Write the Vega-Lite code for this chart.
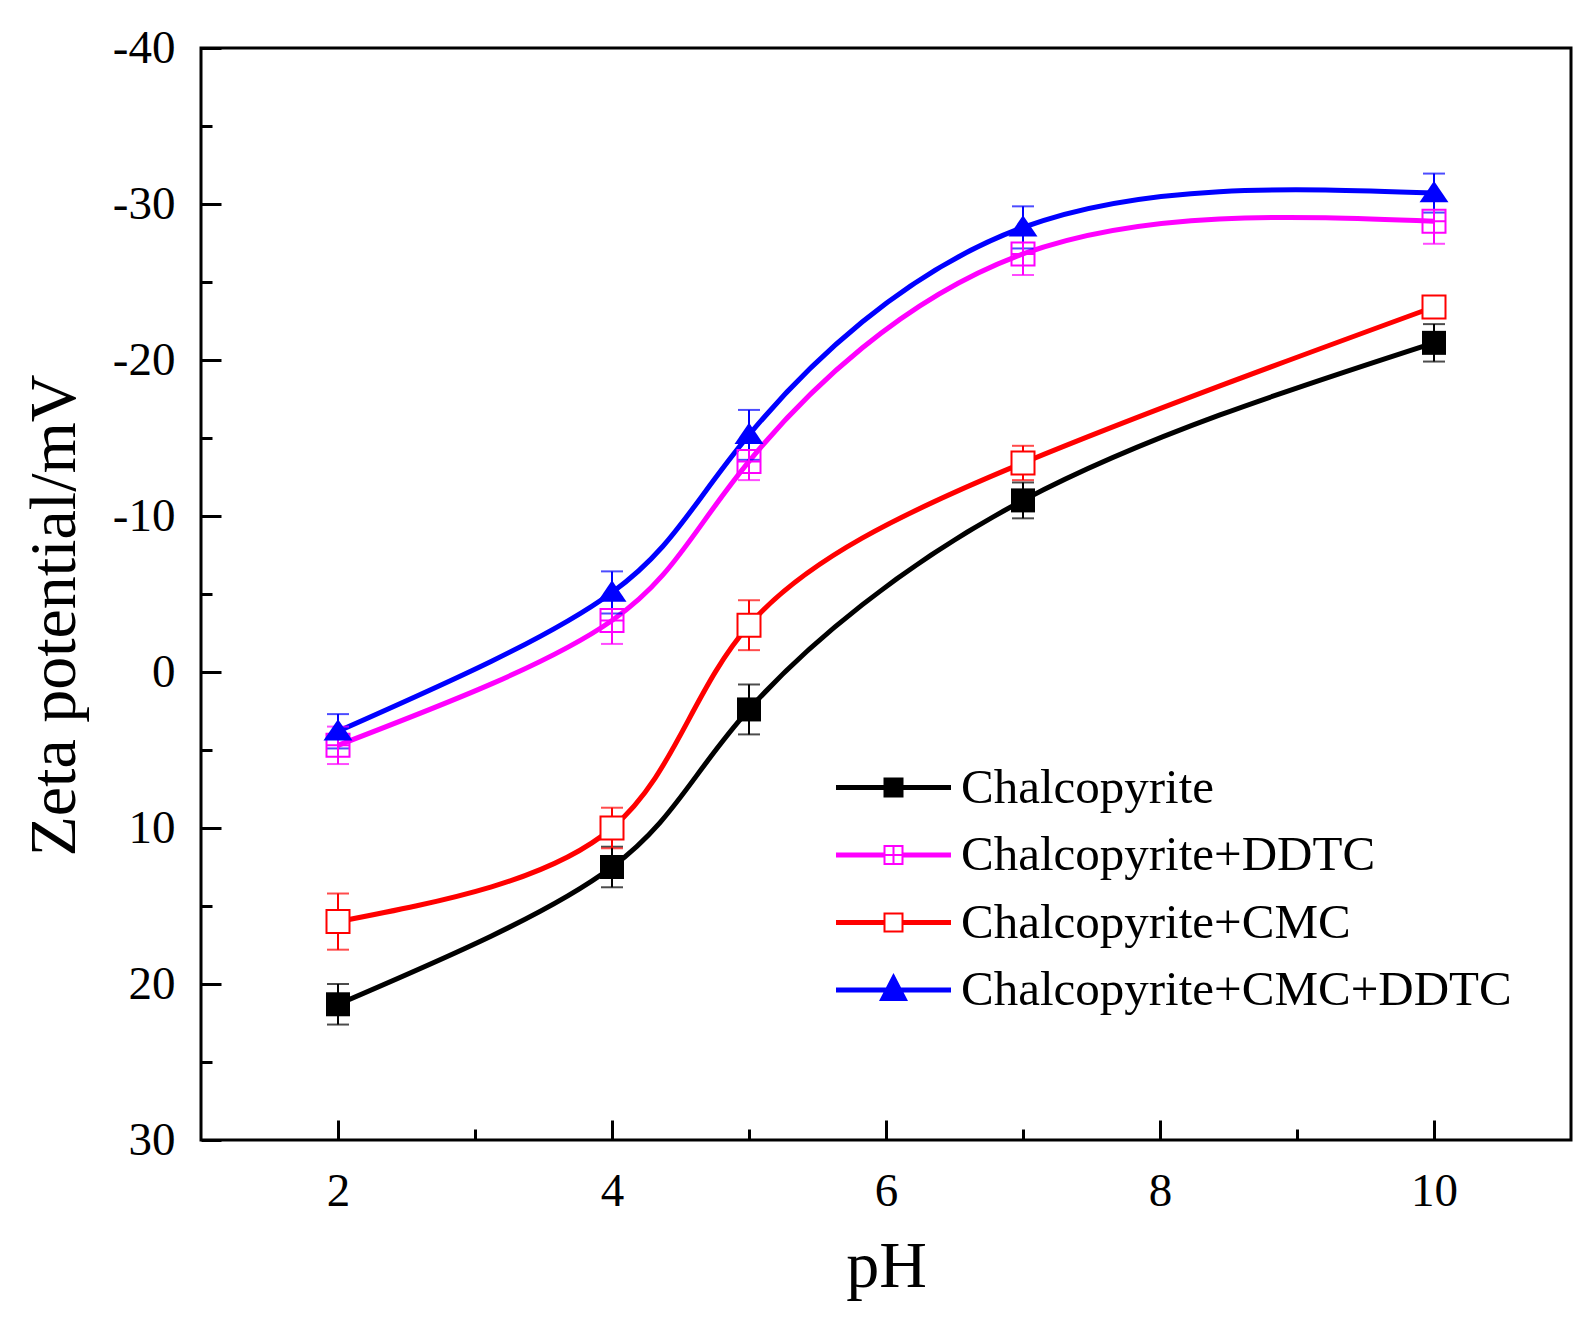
{
  "$schema": "https://vega.github.io/schema/vega-lite/v6.json",
  "width": 1370,
  "height": 1092,
  "autosize": {"type": "none"},
  "padding": {"left": 201, "top": 48, "right": 24, "bottom": 185},
  "background": "white",
  "config": {
    "view": {"stroke": "#000000", "strokeWidth": 3},
    "font": "Liberation Serif",
    "axis": {
      "grid": false,
      "domain": false,
      "tickColor": "#000000",
      "tickWidth": 3,
      "labelColor": "#000000",
      "titleColor": "#000000",
      "labelFont": "Liberation Serif",
      "titleFont": "Liberation Serif",
      "titleFontWeight": "normal",
      "labelFontSize": 47,
      "titleFontSize": 66
    }
  },
  "data": {
    "values": [
      {"series": "Chalcopyrite", "pH": 2, "zeta": 21.3, "err": 1.3},
      {"series": "Chalcopyrite", "pH": 4, "zeta": 12.5, "err": 1.3},
      {"series": "Chalcopyrite", "pH": 5, "zeta": 2.4, "err": 1.6},
      {"series": "Chalcopyrite", "pH": 7, "zeta": -11.0, "err": 1.15},
      {"series": "Chalcopyrite", "pH": 10, "zeta": -21.1, "err": 1.2},
      {"series": "Chalcopyrite+DDTC", "pH": 2, "zeta": 4.7, "err": 1.2},
      {"series": "Chalcopyrite+DDTC", "pH": 4, "zeta": -3.3, "err": 1.5},
      {"series": "Chalcopyrite+DDTC", "pH": 5, "zeta": -13.5, "err": 1.2},
      {"series": "Chalcopyrite+DDTC", "pH": 7, "zeta": -26.8, "err": 1.35},
      {"series": "Chalcopyrite+DDTC", "pH": 10, "zeta": -28.9, "err": 1.45},
      {"series": "Chalcopyrite+CMC", "pH": 2, "zeta": 16.0, "err": 1.8},
      {"series": "Chalcopyrite+CMC", "pH": 4, "zeta": 10.0, "err": 1.3},
      {"series": "Chalcopyrite+CMC", "pH": 5, "zeta": -3.0, "err": 1.6},
      {"series": "Chalcopyrite+CMC", "pH": 7, "zeta": -13.4, "err": 1.1},
      {"series": "Chalcopyrite+CMC", "pH": 10, "zeta": -23.4, "err": 0.6},
      {"series": "Chalcopyrite+CMC+DDTC", "pH": 2, "zeta": 3.8, "err": 1.1},
      {"series": "Chalcopyrite+CMC+DDTC", "pH": 4, "zeta": -5.1, "err": 1.35},
      {"series": "Chalcopyrite+CMC+DDTC", "pH": 5, "zeta": -15.2, "err": 1.6},
      {"series": "Chalcopyrite+CMC+DDTC", "pH": 7, "zeta": -28.5, "err": 1.35},
      {"series": "Chalcopyrite+CMC+DDTC", "pH": 10, "zeta": -30.7, "err": 1.25}
    ]
  },
  "resolve": {"axis": {"x": "independent", "y": "independent"}},
  "layer": [
    {
      "mark": {"type": "line", "interpolate": "natural", "strokeWidth": 5},
      "encoding": {
        "x": {
          "field": "pH",
          "type": "quantitative",
          "scale": {"domain": [1, 11], "nice": false, "zero": false},
          "axis": {
            "orient": "bottom",
            "values": [2, 4, 6, 8, 10],
            "tickSize": -20,
            "labelPadding": 48,
            "labelExpr": "'' + datum.value",
            "title": "pH",
            "titlePadding": 20
          }
        },
        "y": {
          "field": "zeta",
          "type": "quantitative",
          "scale": {"domain": [-40, 30], "reverse": true, "nice": false, "zero": false},
          "axis": {
            "orient": "left",
            "values": [-40, -30, -20, -10, 0, 10, 20, 30],
            "tickSize": -20,
            "labelPadding": 46,
            "labelExpr": "'' + datum.value",
            "title": "Zeta potential/mV",
            "titlePadding": 24,
            "titleY": 567
          }
        },
        "color": {
          "field": "series",
          "type": "nominal",
          "scale": {
            "domain": ["Chalcopyrite", "Chalcopyrite+DDTC", "Chalcopyrite+CMC", "Chalcopyrite+CMC+DDTC"],
            "range": ["#000000", "#ff00ff", "#ff0000", "#0000ff"]
          },
          "legend": {
            "title": null,
            "orient": "none",
            "legendX": 668,
            "legendY": 715,
            "padding": 0,
            "symbolOffset": 0,
            "symbolSize": 400,
            "symbolStrokeWidth": 0,
            "labelOffset": 43,
            "rowPadding": 17.5,
            "labelFont": "Liberation Serif",
            "labelFontSize": 49,
            "labelColor": "#000000",
            "labelLimit": 0,
            "encode": {
              "symbols": {
                "update": {
                  "shape": {"signal": "datum.value === 'Chalcopyrite' ? 'M-5.75,-0.25H5.75V0.25H-5.75Z M-1,-1H1V1H-1Z' : datum.value === 'Chalcopyrite+DDTC' ? 'M-5.75,-0.25H-1V0.25H-5.75Z M1,-0.25H5.75V0.25H1Z M-1,-1H1V1H-1Z M-0.8,-0.8V0.8H0.8V-0.8Z M-0.1,-0.8H0.1V0.8H-0.1Z M-0.8,-0.1H0.8V0.1H-0.8Z' : datum.value === 'Chalcopyrite+CMC' ? 'M-5.75,-0.25H-1V0.25H-5.75Z M1,-0.25H5.75V0.25H1Z M-1,-1H1V1H-1Z M-0.8,-0.8V0.8H0.8V-0.8Z' : 'M-5.75,-0.25H5.75V0.25H-5.75Z M0,-1.7L1.45,1.1H-1.45Z'"},
                  "fill": {"scale": "color", "field": "value"},
                  "stroke": {"value": "transparent"},
                  "strokeWidth": {"value": 0},
                  "size": {"value": 400},
                  "opacity": {"value": 1}
                }
              }
            }
          }
        }
      }
    },
    {
      "mark": {"type": "errorbar", "ticks": {"size": 22, "thickness": 2}, "rule": {"strokeWidth": 2}},
      "encoding": {
        "x": {"field": "pH", "type": "quantitative", "axis": null},
        "y": {"field": "zeta", "type": "quantitative", "axis": null},
        "yError": {"field": "err"},
        "color": {"field": "series", "type": "nominal", "legend": null}
      }
    },
    {
      "transform": [{"filter": "datum.series === 'Chalcopyrite'"}],
      "mark": {"type": "point", "shape": "square", "filled": true, "size": 576, "opacity": 1},
      "encoding": {
        "x": {
          "field": "pH",
          "type": "quantitative",
          "axis": {"orient": "bottom", "values": [3, 5, 7, 9], "tickSize": -11, "labels": false, "title": null}
        },
        "y": {
          "field": "zeta",
          "type": "quantitative",
          "axis": {"orient": "left", "values": [-35, -25, -15, -5, 5, 15, 25], "tickSize": -11, "labels": false, "title": null}
        },
        "color": {"field": "series", "type": "nominal", "legend": null}
      }
    },
    {
      "transform": [{"filter": "datum.series === 'Chalcopyrite+DDTC'"}],
      "mark": {"type": "point", "shape": "M-1,-1H1V1H-1Z M0,-1V1 M-1,0H1", "filled": false, "size": 529, "strokeWidth": 2, "opacity": 1},
      "encoding": {
        "x": {"field": "pH", "type": "quantitative", "axis": null},
        "y": {"field": "zeta", "type": "quantitative", "axis": null},
        "color": {"field": "series", "type": "nominal", "legend": null}
      }
    },
    {
      "transform": [{"filter": "datum.series === 'Chalcopyrite+CMC'"}],
      "mark": {"type": "point", "shape": "square", "filled": false, "fill": "#ffffff", "size": 529, "strokeWidth": 2, "opacity": 1},
      "encoding": {
        "x": {"field": "pH", "type": "quantitative", "axis": null},
        "y": {"field": "zeta", "type": "quantitative", "axis": null},
        "color": {"field": "series", "type": "nominal", "legend": null}
      }
    },
    {
      "transform": [{"filter": "datum.series === 'Chalcopyrite+CMC+DDTC'"}],
      "mark": {"type": "point", "shape": "M0,-1.05L1.26,0.8H-1.26Z", "filled": true, "size": 529, "opacity": 1},
      "encoding": {
        "x": {"field": "pH", "type": "quantitative", "axis": null},
        "y": {"field": "zeta", "type": "quantitative", "axis": null},
        "color": {"field": "series", "type": "nominal", "legend": null}
      }
    }
  ]
}
